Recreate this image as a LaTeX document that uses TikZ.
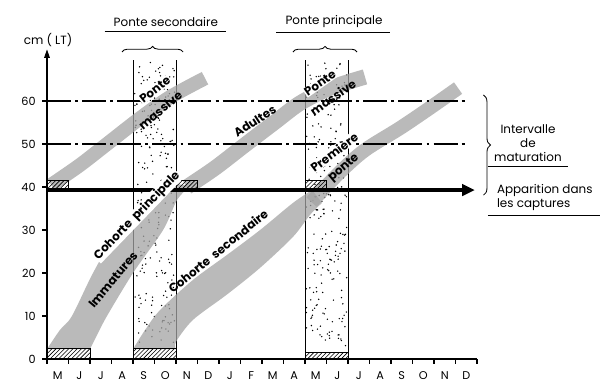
\documentclass[tikz,border=0pt]{standalone}
\usepackage{fontspec}
\setmainfont{Poppins}
\usetikzlibrary{arrows.meta, decorations.pathreplacing, patterns}

\tikzset{
  axis/.style={line width=0.8pt},
  hatchbox/.style={draw, line width=0.6pt, pattern=north east lines},
  cohort/.style={fill=black!36, opacity=0.75},
  cohortline/.style={draw=black!36, opacity=0.75, line width=#1},
  levelline/.style={line width=0.8pt, dash pattern=on 17pt off 3pt on 2pt off 3pt},
  title/.style={font=\fontsize{8.5}{10}\selectfont},
  bandlabel/.style={font=\fontsize{8.5}{10}\selectfont\bfseries, inner sep=0.5pt},
  ticklabel/.style={font=\fontsize{8}{9}\selectfont}
}

\begin{document}
\begin{tikzpicture}[x=0.5375cm, y=0.1075cm]
  \useasboundingbox (-2.186,-6.744) rectangle (25.72,83.49);

  % spawning periods (stippled)
  \pgfmathsetseed{17}
  \foreach \xa in {4,12} {
    \foreach \k in {1,...,230}
      \fill ({\xa+0.06+1.88*rnd},{3+66*rnd}) circle (0.55pt);
    \draw[line width=0.6pt] (\xa,0) -- (\xa,69.5);
    \draw[line width=0.6pt] (\xa+2,0) -- (\xa+2,69.5);
  }

  % growth bands
  \fill[cohort] plot[smooth, tension=0.5] coordinates {(0,2.3) (0.60,6.74) (1.16,10) (2.14,20) (3.30,30) (4.79,38.6) (5.81,40.9)}
    -- plot[smooth, tension=0.5] coordinates {(6.65,40.2) (6.05,37) (5.40,30) (4.0,20) (2.79,10) (2.33,5.58) (2.0,2.3)} -- cycle;
  \fill[cohort] plot[smooth, tension=0.5] coordinates {(4,2.3) (4.56,6.74) (5.26,11.4) (6.79,18.4) (8.37,24.2) (9.91,30) (11.44,36.3) (12.33,39.3)}
    -- plot[smooth, tension=0.5] coordinates {(12.79,36.3) (12.23,33.5) (11.44,28.4) (9.91,21.2) (8.37,15.0) (6.79,9.1) (6.0,4) (6.0,2.3)} -- cycle;
  \draw[cohortline=10pt] plot[smooth] coordinates {(0.2,40.5) (1.53,45.1) (2.79,50) (4.33,56) (5.72,60.9) (7.35,65.3)};
  \draw[cohortline=11pt] plot[smooth] coordinates {(6.51,40) (7.81,44.4) (9.21,49.8) (10.6,55.1) (11.77,59.5) (13.16,63) (14.79,65.6)};
  \draw[cohortline=10pt] plot[smooth] coordinates {(12.3,36.5) (13.63,43.5) (14.79,48.6) (16.42,53.7) (17.81,58.4) (19.12,63)};

  % maturation levels
  \draw[levelline] (0,60) -- (19.5,60);
  \draw[levelline] (0,50) -- (19.5,50);

  % hatched boxes
  \foreach \xa/\xb/\h in {0/2/2.5, 4/6/2.5, 12/14/1.6}
    \draw[hatchbox] (\xa,0) rectangle (\xb,\h);
  \foreach \xa in {0,6,12}
    \draw[hatchbox] (\xa,39.3) rectangle (\xa+1,41.5);

  % capture arrow
  \draw[line width=2.6pt, -{Triangle[length=9pt,width=8pt]}] (0,39.3) -- (19.9,39.3);

  % axes
  \draw[axis, -{Triangle[length=6pt,width=4pt]}] (0,0) -- (0,72);
  \draw[axis] (0,0) -- (20,0);
  \foreach \i in {0,...,20}
    \draw[axis] (\i,0) -- (\i,-1.2);
  \foreach \m [count=\i from 0] in {M,J,J,A,S,O,N,D,J,F,M,A,M,J,J,A,S,O,N,D}
    \node[ticklabel] (m\i) at (\i+0.5,-3.9) {\m};
  \foreach \v in {0,10,...,60} {
    \draw[axis] (-0.23,\v) -- (0,\v);
    \node[ticklabel, anchor=east] (y\v) at (-0.3,\v) {\v};
  }
  \node[title] (unit) at (0.05,74.2) {cm ( LT)};

  % spawning titles
  \node[title] (pontesec) at (5.53,78.4) {Ponte secondaire};
  \draw[line width=0.7pt] ([xshift=-3pt]pontesec.south west) -- ([xshift=2pt]pontesec.south east);
  \draw[decorate, decoration={brace, amplitude=4pt}, line width=0.6pt] (3.49,71.4) -- (6.33,71.4);
  \node[title] (pontepri) at (13.35,78.4) {Ponte principale};
  \draw[line width=0.7pt] ([xshift=-3pt]pontepri.south west) -- ([xshift=2pt]pontepri.south east);
  \draw[decorate, decoration={brace, amplitude=4pt}, line width=0.6pt] (11.44,71.4) -- (14.42,71.4);

  % right side
  \draw[decorate, decoration={brace, amplitude=5pt}, line width=0.6pt] (20.3,61.4) -- (20.3,38.1);
  \node[title, align=center] (interv) at (22.37,50.2) {Intervalle\\de\\maturation};
  \draw[line width=0.7pt] ([xshift=-1pt]interv.south west) -- ([xshift=1pt]interv.south east);
  \node[title, align=left, anchor=west] (appar) at (20.7,37.56) {Apparition dans\\les captures};
  \draw[line width=0.7pt] ([xshift=-3pt]appar.south west) -- ([xshift=2pt]appar.south east);

  % band labels
  \node[bandlabel, fill=white, rotate=38] (ponte1) at (5.02,62.6) {Ponte};
  \node[bandlabel, rotate=40] (massive1) at (5.26,57.9) {massive};
  \node[bandlabel, fill=white, rotate=35] (ponte2) at (12.7,64.2) {Ponte};
  \node[bandlabel, rotate=35] (massive2) at (13.3,60.9) {massive};
  \node[bandlabel, rotate=33] (adultes) at (9.67,55.3) {Adultes};
  \node[bandlabel, fill=white, rotate=37] (premiere) at (13.35,48.1) {Première};
  \node[bandlabel, rotate=40] (ponte3) at (13.81,44.4) {ponte};
  \node[bandlabel, fill=white, rotate=46] (cohprin) at (4.19,33.3) {Cohorte\ \ principale};
  \node[bandlabel, rotate=50] (immat) at (3.07,18.4) {Immatures};
  \node[bandlabel, rotate=39] (cohsec) at (7.95,25.1) {Cohorte\ \ secondaire};
\end{tikzpicture}
\end{document}
